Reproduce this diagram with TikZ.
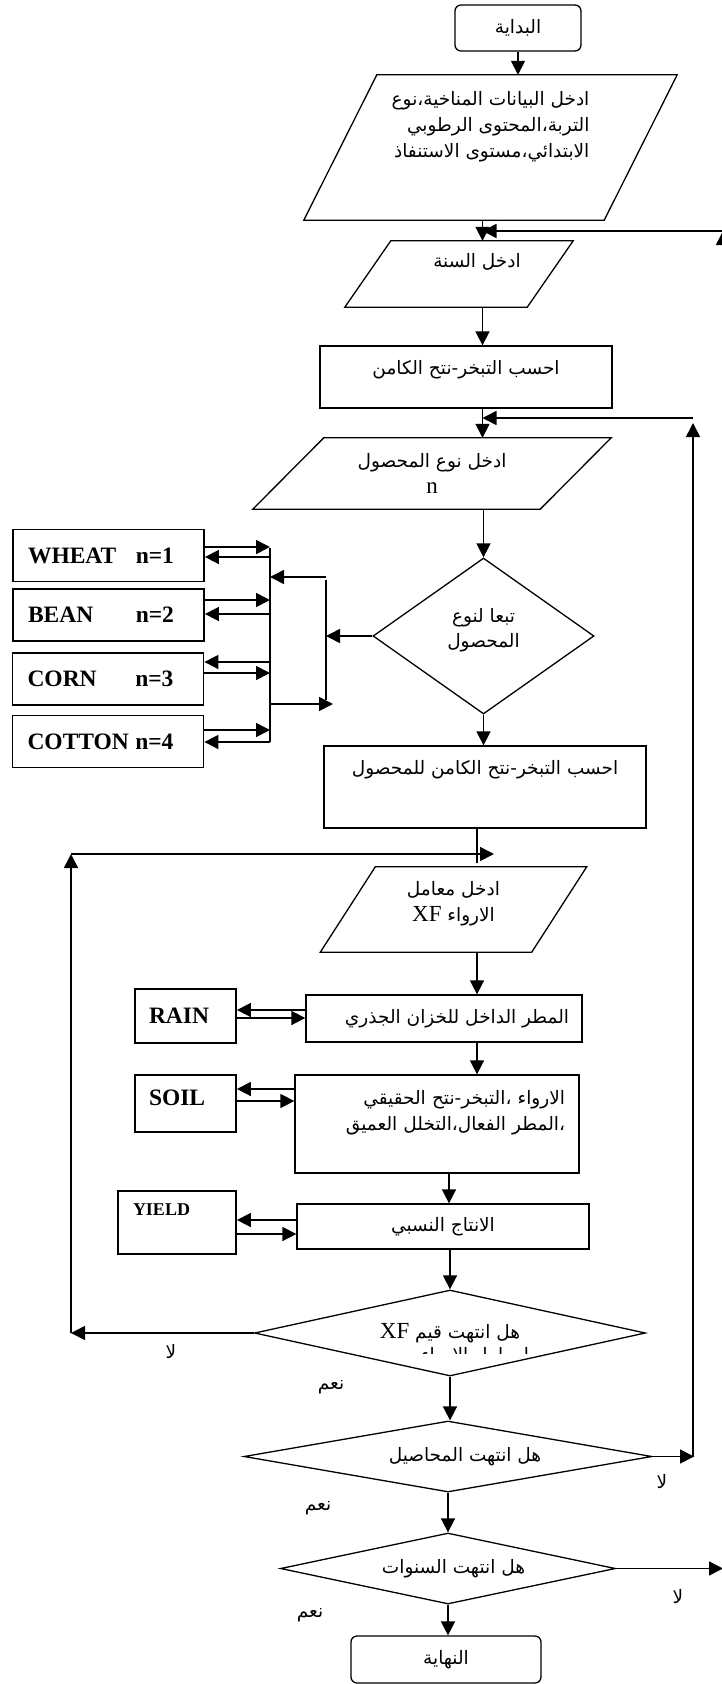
\documentclass[tikz,border=0pt]{standalone}
\usepackage{fontspec}
\setmainfont{Liberation Serif}
\newfontfamily\arabicfont[Script=Arabic]{DejaVu Sans}
\TeXXeTstate=1
\usetikzlibrary{arrows.meta,shapes.geometric}
\newcommand{\artxt}[1]{{\arabicfont\beginR #1\endR}}
\newcommand{\lat}[1]{\beginL{\rmfamily\fontsize{23}{26}\selectfont #1}\endL}
% slanted frame round an input node: #1 node, #2 slant
\newcommand{\ioframe}[2]{\draw[line width=1.3pt] ([xshift=#2/2]#1.north west) -- ([xshift=#2/2]#1.north east)
  -- ([xshift=-#2/2]#1.south east) -- ([xshift=-#2/2]#1.south west) -- cycle;}

\begin{document}
\begin{tikzpicture}[
    x=1pt, y=-1pt,
    term/.style={rectangle, rounded corners=6pt, draw, line width=1.3pt, inner sep=0pt,
      font=\arabicfont\fontsize{18.5}{26}\selectfont},
    io/.style={rectangle, inner sep=0pt, align=center,
      font=\arabicfont\fontsize{18.5}{26}\selectfont},
    proc/.style={rectangle, draw, line width=1.3pt, inner sep=0pt, align=center,
      font=\arabicfont\fontsize{18.5}{26}\selectfont},
    decide/.style={diamond, draw, line width=1.3pt, inner sep=0pt, align=center,
      font=\arabicfont\fontsize{18.5}{25}\selectfont},
    crop/.style={rectangle, draw, line width=1.8pt, text width=161pt, inner xsep=15pt,
      inner ysep=0pt, align=left, minimum height=52pt, font=\bfseries\fontsize{23.5}{28}\selectfont},
    data/.style={rectangle, draw, line width=1.8pt, inner xsep=14pt, inner ysep=0pt,
      align=left, font=\bfseries\fontsize{23.5}{28}\selectfont},
    lbl/.style={inner sep=0pt, font=\arabicfont\fontsize{18.5}{20}\selectfont},
    arr/.style={-{Triangle[length=14pt,width=14pt]}, line width=1.6pt}
  ]
    \useasboundingbox (0,0) rectangle (721,1684);

    % main column
    \node[term, minimum width=126pt, minimum height=46pt] (start) at (518,28) {\artxt{البداية}};
    \node[io, minimum width=300pt, minimum height=145pt, align=right] (inclim) at (490.5,147.5)
      {\artxt{ادخل البيانات المناخية،نوع}\\\artxt{التربة،المحتوى الرطوبي}\\\artxt{الابتدائي،مستوى الاستنفاذ}\\[21pt]\mbox{}};
    \ioframe{inclim}{73}
    \node[io, minimum width=182pt, minimum height=66pt] (inyear) at (459,274)
      {\hspace*{36pt}\artxt{ادخل السنة}\\[2pt]\mbox{}};
    \ioframe{inyear}{46}
    \node[proc, minimum width=292pt, minimum height=62pt] (etpot) at (466,377)
      {\artxt{احسب التبخر-نتح الكامن}\\[-6pt]\mbox{}};
    \node[io, minimum width=287pt, minimum height=71pt] (incrop) at (432,473.5)
      {\artxt{ادخل نوع المحصول}\\\lat{n}};
    \ioframe{incrop}{71}
    \node[decide, aspect=1.4, minimum width=221pt, minimum height=156pt] (cropdec) at (483.5,636)
      {\artxt{تبعا لنوع}\\\artxt{المحصول}\\[-8pt]\mbox{}};
    \node[proc, minimum width=322pt, minimum height=82pt] (etcrop) at (485,787)
      {\artxt{احسب التبخر-نتح الكامن للمحصول}\\[14pt]\mbox{}};
    \node[io, minimum width=211pt, minimum height=85pt] (inxf) at (453.5,909.5)
      {\artxt{ادخل معامل}\\\artxt{الارواء \lat{XF}}\\[-9pt]\mbox{}};
    \ioframe{inxf}{55}
    \node[proc, minimum width=276pt, minimum height=47pt] (rainproc) at (444,1018.5)
      {\hspace*{26pt}\artxt{المطر الداخل للخزان الجذري}};
    \node[proc, text width=256pt, inner xsep=14pt, align=right, minimum height=98pt] (soilproc) at (437,1124)
      {\artxt{الارواء ،التبخر-نتح الحقيقي}\\\artxt{،المطر الفعال،التخلل العميق}\\[2pt]\mbox{}};
    \node[proc, minimum width=292pt, minimum height=45pt] (yieldproc) at (443,1226.5) {\artxt{الانتاج النسبي}};
    \node[decide, aspect=4.5, minimum width=391pt, minimum height=86pt] (xfdec) at (450,1333)
      {\artxt{هل انتهت قيم \lat{XF}}};
    \begin{scope}
      \clip (380,1339) rectangle (560,1353);
      \node[lbl, anchor=base] (xfmore) at (475,1361) {\artxt{لمعامل الارواء}};
    \end{scope}
    \node[decide, aspect=5.7, minimum width=408pt, minimum height=71pt] (cropend) at (448,1456.5)
      {\hspace*{34pt}\artxt{هل انتهت المحاصيل}};
    \node[decide, aspect=4.7, minimum width=335pt, minimum height=71pt] (yearend) at (448,1568.5)
      {\hspace*{11pt}\artxt{هل انتهت السنوات}};
    \node[term, minimum width=190pt, minimum height=47pt] (finish) at (446,1659.5) {\artxt{النهاية}};

    % crop boxes
    \node[crop] (wheat) at (108.5,555.5) {\makebox[146pt]{WHEAT\hfill n=1}};
    \node[crop] (bean) at (108.5,615) {\makebox[146pt]{BEAN\hfill n=2}};
    \node[crop] (corn) at (108,679) {\makebox[146pt]{CORN\hfill n=3}};
    \node[crop] (cotton) at (108,741.5) {\makebox[146pt]{COTTON\hfill n=4}};

    % data boxes
    \node[data, text width=73pt, minimum height=54pt] (rain) at (185.5,1016) {RAIN};
    \node[data, text width=73pt, minimum height=57pt] (soil) at (185.5,1103.5) {SOIL\\[-17pt]\mbox{}};
    \node[data, text width=88pt, inner xsep=15pt, minimum height=63pt,
      font=\bfseries\fontsize{18}{21}\selectfont] (yield) at (177,1222.5) {YIELD\\[4pt]\mbox{}};

    % yes / no
    \node[lbl] (no1) at (171,1352) {\artxt{لا}};
    \node[lbl] (yes1) at (331,1387) {\artxt{نعم}};
    \node[lbl] (no2) at (662,1482) {\artxt{لا}};
    \node[lbl] (yes2) at (318,1508) {\artxt{نعم}};
    \node[lbl] (no3) at (678,1597) {\artxt{لا}};
    \node[lbl] (yes3) at (310,1615) {\artxt{نعم}};

    \coordinate (col) at (482.5,0);
    \coordinate (colB) at (477,0);
    \coordinate (colC) at (449,0);

    \draw[arr] (start.south) -- (start.south |- inclim.north);
    \draw[arr] (inclim.south -| col) -- (inyear.north -| col);
    \draw[arr] (inyear.south -| col) -- (etpot.north -| col);
    \draw[arr] (etpot.south -| col) -- (incrop.north -| col);
    \draw[arr] (incrop.south -| cropdec.north) -- (cropdec.north);
    \draw[arr] (cropdec.south) -- (cropdec.south |- etcrop.north);
    \draw[line width=1.6pt] (etcrop.south -| colB) -- ([yshift=4pt]inxf.north -| colB);
    \draw[arr] (inxf.south -| colB) -- (rainproc.north -| colB);
    \draw[arr] (rainproc.south -| colB) -- (soilproc.north -| colB);
    \draw[arr] (soilproc.south -| colC) -- (yieldproc.north -| colC);
    \draw[arr] (yieldproc.south -| xfdec.north) -- (xfdec.north);
    \draw[arr] (xfdec.south) -- (xfdec.south |- cropend.north);
    \draw[arr] (cropend.south) -- (cropend.south |- yearend.north);
    \draw[arr] (yearend.south) -- (yearend.south |- finish.north);

    % crop type fan
    \coordinate (busA) at (270,548);
    \coordinate (busZ) at (270,742);
    \coordinate (fanA) at (326,577);
    \coordinate (fanZ) at (326,704);
    \draw[line width=1.6pt] (busA) -- (busZ);
    \draw[line width=1.6pt] ([yshift=-3pt]fanA) -- ([yshift=4pt]fanZ);
    \draw[arr] (cropdec.west) -- (cropdec.west -| fanA);
    \draw[arr] (fanA) -- (fanA -| busA);
    \draw[arr] (fanZ -| busA) -- ([xshift=7pt]fanZ);
    \draw[arr] ([yshift=8.5pt]wheat.east) -- ([yshift=8.5pt]wheat.east -| busA);
    \draw[arr] ([yshift=-1.5pt]wheat.east -| busA) -- ([yshift=-1.5pt]wheat.east);
    \draw[arr] ([yshift=15pt]bean.east) -- ([yshift=15pt]bean.east -| busA);
    \draw[arr] ([yshift=1pt]bean.east -| busA) -- ([yshift=1pt]bean.east);
    \draw[arr] ([yshift=17pt]corn.east -| busA) -- ([yshift=17pt]corn.east);
    \draw[arr] ([yshift=6pt]corn.east) -- ([yshift=6pt]corn.east -| busA);
    \draw[arr] ([yshift=11.5pt]cotton.east) -- ([yshift=11.5pt]cotton.east -| busA);
    \draw[arr] ([yshift=-0.5pt]cotton.east -| busA) -- ([yshift=-0.5pt]cotton.east);

    % data links
    \draw[arr] ([yshift=8.5pt]rainproc.west) -- ([yshift=8.5pt]rainproc.west -| rain.east);
    \draw[arr] ([yshift=0.5pt]rainproc.west -| rain.east) -- ([yshift=0.5pt]rainproc.west);
    \draw[arr] ([yshift=14.5pt]soil.east -| soilproc.west) -- ([yshift=14.5pt]soil.east);
    \draw[arr] ([yshift=2.5pt]soil.east) -- ([yshift=2.5pt]soil.east -| soilproc.west);
    \draw[arr] ([yshift=2.5pt]yield.east -| yieldproc.west) -- ([yshift=2.5pt]yield.east);
    \draw[arr] ([yshift=-11.5pt]yield.east) -- ([yshift=-11.5pt]yield.east -| yieldproc.west);

    % xf loop
    \coordinate (xfL) at (71,854);
    \draw[arr] (xfdec.west) -- (xfdec.west -| xfL);
    \draw[arr] (xfdec.west -| xfL) -- (xfL);
    \draw[arr] (xfL) -- ([xshift=17pt]xfL -| colB);

    % crop loop
    \coordinate (crR) at (694,1456.5);
    \coordinate (crUp) at (693,423);
    \coordinate (crT) at (693,418);
    \draw[arr] (cropend.east) -- (crR);
    \draw[arr] (crR -| crUp) -- (crUp);
    \draw[arr] (crT) -- (crT -| col);

    % year loop
    \coordinate (yrR) at (723,1568.5);
    \coordinate (yrT) at (723,231);
    \draw[arr] (yearend.east) -- (yrR);
    \draw[arr] (yrR) -- (yrT);
    \draw[arr] (yrT) -- (yrT -| col);
\end{tikzpicture}
\end{document}
